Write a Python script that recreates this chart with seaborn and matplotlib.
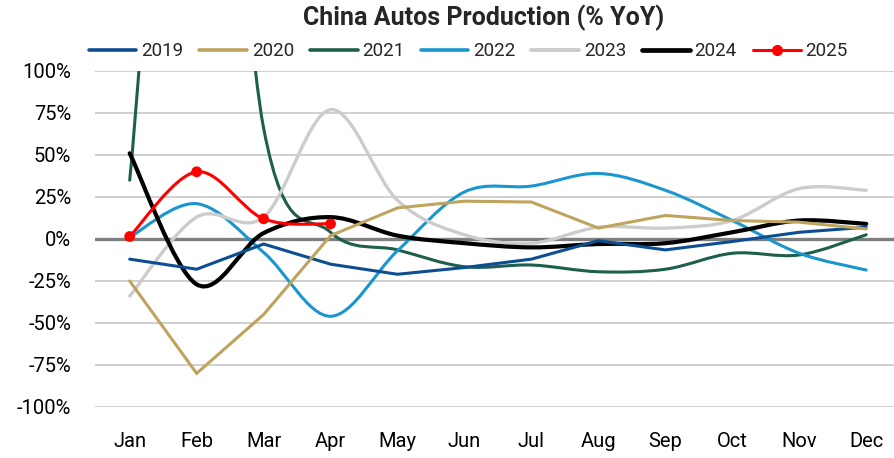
import numpy as np
import pandas as pd
import matplotlib
matplotlib.use("Agg")
import matplotlib.pyplot as plt
from matplotlib import font_manager as fm
from matplotlib.path import Path
from matplotlib.patches import PathPatch
from matplotlib.lines import Line2D
import seaborn as sns

# Daten (YoY in %)
months = ["Jan", "Feb", "Mar", "Apr", "May", "Jun", "Jul", "Aug", "Sep", "Oct", "Nov", "Dec"]
y2019 = [-12, -18, -3, -15, -21, -17, -12, -1, -6.5, -1.5, 4, 7]
y2020 = [-25, -80, -45, 2, 18.5, 22.5, 22, 6.5, 14, 11, 10, 6]
y2021 = [35, 420, 66, 4, -6.5, -16.5, -15.5, -19.5, -18, -8.5, -9.5, 2.5]
y2022 = [1, 21, -8, -46, -7, 28, 31.5, 39, 29, 11, -8.5, -18.5]
y2023 = [-34, 13, 13, 77, 23, 2.5, -2.5, 7, 6.5, 11, 30, 29]
y2024 = [51, -27, 3.5, 13, 2, -2.5, -5, -3, -2.5, 4, 11, 9]
y2025 = [1.5, 40, 12, 9]

years = ["2019", "2020", "2021", "2022", "2023", "2024", "2025"]
series = [y2019, y2020, y2021, y2022, y2023, y2024, y2025]
colors = ["#0D4E92", "#BFA45E", "#1D5E4C", "#1A96CF", "#CCCCCC", "#000000", "#FF0000"]
smooth = [False, False, True, True, True, True, True]
widths = [2.2, 2.2, 2.2, 2.2, 2.4, 3.0, 2.2]

sns.set_theme(style="white")
names = {f.name for f in fm.fontManager.ttflist}
fam = "Liberation Sans Narrow" if "Liberation Sans Narrow" in names else "Roboto"
plt.rcParams["font.family"] = [fam, "DejaVu Sans"]


def smooth_path(x, y):
    # Excel-artige Glättung: Catmull-Rom als Bezier-Kurven
    pts = np.column_stack([x, y]).astype(float)
    ext = np.vstack([pts[0], pts, pts[-1]])
    verts = [pts[0]]
    codes = [Path.MOVETO]
    for i in range(1, len(ext) - 2):
        p0, p1, p2, p3 = ext[i - 1], ext[i], ext[i + 1], ext[i + 2]
        verts += [p1 + (p2 - p0) / 6, p2 - (p3 - p1) / 6, p2]
        codes += [Path.CURVE4] * 3
    return Path(verts, codes)


df = pd.DataFrame(
    [(y, i, v) for y, s in zip(years, series) for i, v in enumerate(s)],
    columns=["year", "month", "value"])

fig = plt.figure(figsize=(8.95, 4.58), dpi=100)
ax = fig.add_axes([0.106, 0.1114, 0.894, 0.7336])

for yr, col, sm, lw in zip(years, colors, smooth, widths):
    d = df[df["year"] == yr]
    if sm:
        ax.add_patch(PathPatch(smooth_path(d["month"], d["value"]), fill=False,
                               edgecolor=col, lw=lw, capstyle="round", joinstyle="round"))
    else:
        sns.lineplot(data=d, x="month", y="value", color=col, lw=lw, ax=ax,
                     legend=False, solid_joinstyle="miter")

d25 = df[df["year"] == "2025"]
sns.scatterplot(data=d25, x="month", y="value", color="#FF0000", s=60,
                edgecolor="none", ax=ax, legend=False, zorder=5)

ax.axhline(0, color="#7F7F7F", lw=2.4, zorder=0.9)
ax.set_ylim(-100, 100)
ax.set_xlim(-0.52, 11.43)
ax.set_yticks(np.arange(-100, 101, 25))
ax.set_yticklabels([f"{t}%" for t in np.arange(-100, 101, 25)])
ax.yaxis.grid(True, color="#C8C8C8", lw=1.2)
ax.set_axisbelow(True)
ax.set_xticks(range(len(months)))
ax.set_xticklabels(months)
ax.tick_params(axis="both", length=0, labelsize=14.5, labelcolor="black")
ax.tick_params(axis="x", pad=18)
ax.tick_params(axis="y", pad=17)
ax.set_xlabel("")
ax.set_ylabel("")
for s in ax.spines.values():
    s.set_visible(False)

fig.text(0.54, 0.96, "China Autos Production (% YoY)", ha="center", va="center",
         fontsize=18, fontweight="bold")

handles = []
for yr, col, lw in zip(years, colors, widths):
    if yr == "2025":
        handles.append(Line2D([], [], color=col, lw=lw, marker="o", markersize=7))
    else:
        handles.append(Line2D([], [], color=col, lw=lw + 0.4))
fig.legend(handles, years, loc="center", bbox_to_anchor=(0.523, 0.888), ncol=7,
           frameon=False, fontsize=13.5, handlelength=2.55, handletextpad=0.25,
           columnspacing=0.85)

fig.savefig("out.png", dpi=100)
